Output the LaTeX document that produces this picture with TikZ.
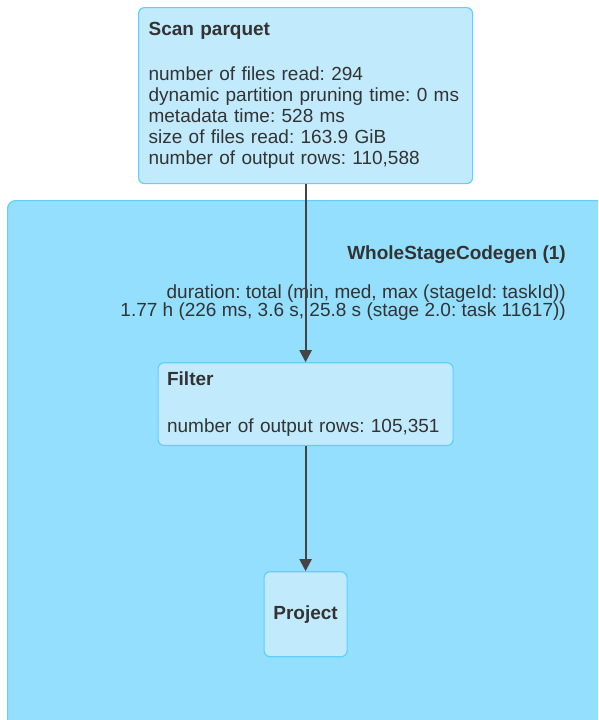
\documentclass[tikz,border=0pt]{standalone}
\usepackage{fontspec}
\setmainfont{Liberation Sans}
\usetikzlibrary{arrows.meta,positioning}
\usepackage{xcolor}
\definecolor{stagefill}{HTML}{93DFFD}
\definecolor{stageline}{HTML}{5FD0FB}
\definecolor{opfill}{HTML}{C1EBFD}
\definecolor{opline}{HTML}{5FD0FB}
\definecolor{opText}{HTML}{333333}
\definecolor{edgegray}{HTML}{444444}
\frenchspacing

\begin{document}
\begin{tikzpicture}[
  x=1pt, y=-1pt,
  stage/.style={draw=stageline, fill=stagefill, line width=1.2pt, rounded corners=8pt, inner sep=0pt},
  op/.style={draw=opline, fill=opfill, line width=1.2pt, rounded corners=6pt, align=left, text=opText, font=\fontsize{19}{21}\selectfont, inner xsep=10pt, inner ysep=12pt},
  stagetext/.style={text=opText, align=right, inner sep=0pt},
  flow/.style={draw=edgegray, line width=2.2pt, -{Triangle[length=12pt, width=12pt]}}
]
\useasboundingbox (0,0) rectangle (598,720);
\clip (0,0) rectangle (598,720);

% codegen stage (runs off the page at right and bottom)
\node[stage, anchor=north west, minimum width=640pt, minimum height=580pt] (wsc) at (7,200) {};
\node[stagetext, anchor=east, font=\fontsize{19}{21}\selectfont\bfseries] (wsctitle) at (566,255) {WholeStageCodegen (1)};
\node[stagetext, anchor=north east, font=\fontsize{19}{18}\selectfont] (wscstats) at (566,285) {duration: total (min, med, max (stageId: taskId))\\1.77 h (226 ms, 3.6 s, 25.8 s (stage 2.0: task 11617))};

% operators
\node[op, anchor=north west, text width=314pt, minimum height=176pt] (scan) at (138,7)
  {\textbf{Scan parquet}\\[24pt]number of files read: 294\\dynamic partition pruning time: 0 ms\\metadata time: 528 ms\\size of files read: 163.9 GiB\\number of output rows: 110,588};
\node[op, below=178pt of scan, text width=277pt, inner xsep=9pt, inner ysep=9pt, minimum height=82pt] (filter)
  {\textbf{Filter}\\[26pt]number of output rows: 105,351};
\node[op, below=125pt of filter, align=center, minimum width=83pt, minimum height=85pt, inner xsep=4pt, font=\fontsize{19}{21}\selectfont\bfseries] (project) {Project};

\draw[flow] (scan) -- (filter);
\draw[flow] (filter) -- (project);
\end{tikzpicture}
\end{document}
